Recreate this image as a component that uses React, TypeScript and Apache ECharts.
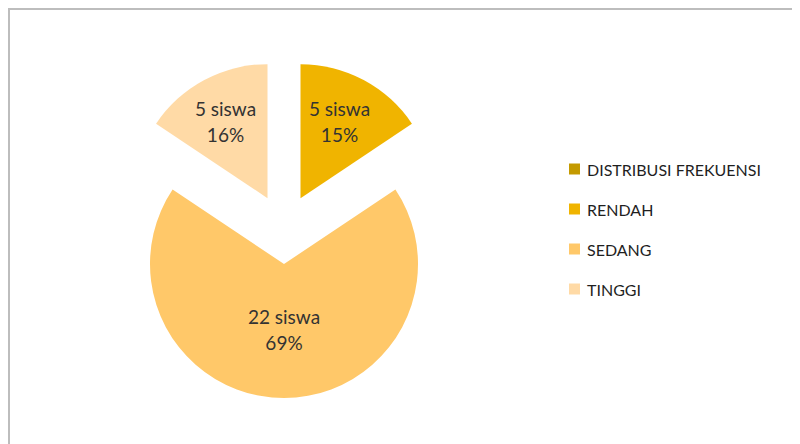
import React, { useEffect, useRef } from "react";
import * as echarts from "echarts";

const categories = ["DISTRIBUSI FREKUENSI", "RENDAH", "SEDANG", "TINGGI"];
const values = [0, 5, 22, 5];
const percentLabels = [0, 15, 69, 16];
const colors = ["#C49A00", "#F0B400", "#FFC869", "#FFDAA6"];
const labelShifts: number[][] = [[0, 0], [6, -15], [0, -5], [-9, -15]];

export default function App() {
  const ref = useRef<HTMLDivElement>(null);
  useEffect(() => {
    if (!ref.current) return;
    const chart = echarts.init(ref.current, null, { renderer: "svg" });
    chart.setOption({
      animation: false,
      legend: {
        orient: "vertical",
        left: 554,
        top: 146,
        itemWidth: 11,
        itemHeight: 11,
        itemGap: 24,
        icon: "rect",
        selectedMode: false,
        textStyle: { fontFamily: "Lato", fontSize: 16, color: "#1f1f1f", padding: [0, 0, 0, 2] },
        data: categories,
      },
      series: [
        {
          type: "pie",
          center: [274, 219],
          radius: [0, 134],
          startAngle: 90,
          clockwise: true,
          selectedMode: "multiple",
          selectedOffset: 35,
          avoidLabelOverlap: false,
          silent: true,
          itemStyle: { borderWidth: 0 },
          label: {
            show: true,
            position: "inside",
            fontFamily: "Lato",
            fontSize: 19,
            lineHeight: 26,
            color: "#333333",
            formatter: (p: any) => `${p.value} siswa\n${percentLabels[p.dataIndex]}%`,
          },
          labelLayout: (p: any) => ({
            dx: labelShifts[p.dataIndex][0],
            dy: labelShifts[p.dataIndex][1],
          }),
          labelLine: { show: false },
          data: categories.map((name, i) => ({
            name,
            value: values[i],
            selected: true,
            itemStyle: { color: colors[i] },
            label: i === 0 ? { show: false } : {},
          })),
        },
      ],
    });
    return () => chart.dispose();
  }, []);
  return (
    <div
      style={{
        width: 792,
        height: 436,
        borderTop: "2px solid #bdbdbd",
        borderLeft: "2px solid #bdbdbd",
        boxSizing: "border-box",
        overflow: "hidden",
      }}
    >
      <div ref={ref} style={{ width: 790, height: 434 }} />
    </div>
  );
}
